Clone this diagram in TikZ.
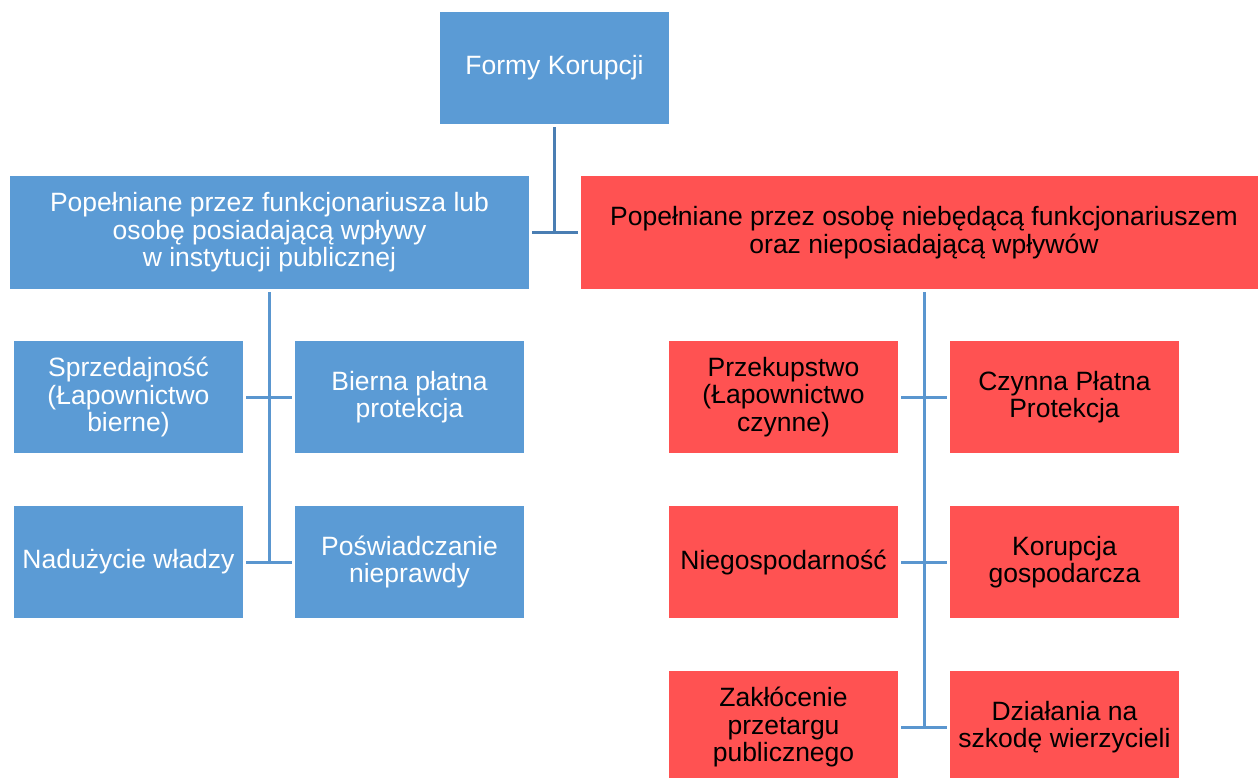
\documentclass[tikz,border=0pt]{standalone}
\usepackage{fontspec}
\setmainfont{Liberation Sans}
\usetikzlibrary{calc}
\definecolor{boxblue}{HTML}{5B9BD5}
\definecolor{boxred}{HTML}{FF5252}
\definecolor{linetop}{HTML}{4A7EB3}
\definecolor{linesub}{HTML}{5A96CF}
\tikzset{
  basebox/.style={rectangle, inner sep=0pt, align=center,
    font=\fontsize{26.5}{27.5}\selectfont, minimum width=229pt, minimum height=112pt},
  bluebox/.style={basebox, fill=boxblue, text=white},
  redbox/.style={basebox, fill=boxred, text=black},
  conn/.style={line width=3pt},
}
\begin{document}
\begin{tikzpicture}[x=1pt,y=-1pt]
\useasboundingbox (0,0) rectangle (1258,778);
% top
\node[bluebox] (top) at (554.5,68) {Formy Korupcji};
% level 1
\node[bluebox, minimum width=519pt, minimum height=113pt] (l1) at (269.5,232.5)
  {Popełniane przez funkcjonariusza lub\\osobę posiadającą wpływy\\w instytucji publicznej};
\node[redbox, minimum width=686pt, minimum height=113pt] (r1) at (924,232.5)
  {Popełniane przez osobę niebędącą funkcjonariuszem\\oraz nieposiadającą wpływów};
% left subtree
\node[bluebox] (a1) at (128.5,397) {Sprzedajność\\(Łapownictwo\\bierne)};
\node[bluebox] (b1) at (409.5,397) {Bierna płatna\\protekcja};
\node[bluebox] (a2) at (128.5,562) {Nadużycie władzy};
\node[bluebox] (b2) at (409.5,562) {Poświadczanie\\nieprawdy};
% right subtree
\node[redbox] (c1) at (783.5,397) {Przekupstwo\\(Łapownictwo\\czynne)};
\node[redbox] (d1) at (1064.5,397) {Czynna Płatna\\Protekcja};
\node[redbox] (c2) at (783.5,562) {Niegospodarność};
\node[redbox] (d2) at (1064.5,562) {Korupcja\\gospodarcza};
\node[redbox] (c3) at (783.5,727) {Zakłócenie\\przetargu\\publicznego};
\node[redbox] (d3) at (1064.5,727) {Działania na\\szkodę wierzycieli};
% connectors top
\draw[conn, linetop] ($(top.south)+(0,3)$) -- (top.south |- l1.east);
\draw[conn, linetop] ($(l1.east)+(3,0)$) -- ($(r1.west)+(-3,0)$);
% connectors left
\draw[conn, linesub] ($(l1.south)+(0,3)$) -- (l1.south |- a2.east);
\draw[conn, linesub] ($(a1.east)+(3,0)$) -- ($(b1.west)+(-3,0)$);
\draw[conn, linesub] ($(a2.east)+(3,0)$) -- ($(b2.west)+(-3,0)$);
% connectors right
\draw[conn, linesub] ($(r1.south)+(0,3)$) -- (r1.south |- c3.east);
\draw[conn, linesub] ($(c1.east)+(3,0)$) -- ($(d1.west)+(-3,0)$);
\draw[conn, linesub] ($(c2.east)+(3,0)$) -- ($(d2.west)+(-3,0)$);
\draw[conn, linesub] ($(c3.east)+(3,0)$) -- ($(d3.west)+(-3,0)$);
\end{tikzpicture}
\end{document}
